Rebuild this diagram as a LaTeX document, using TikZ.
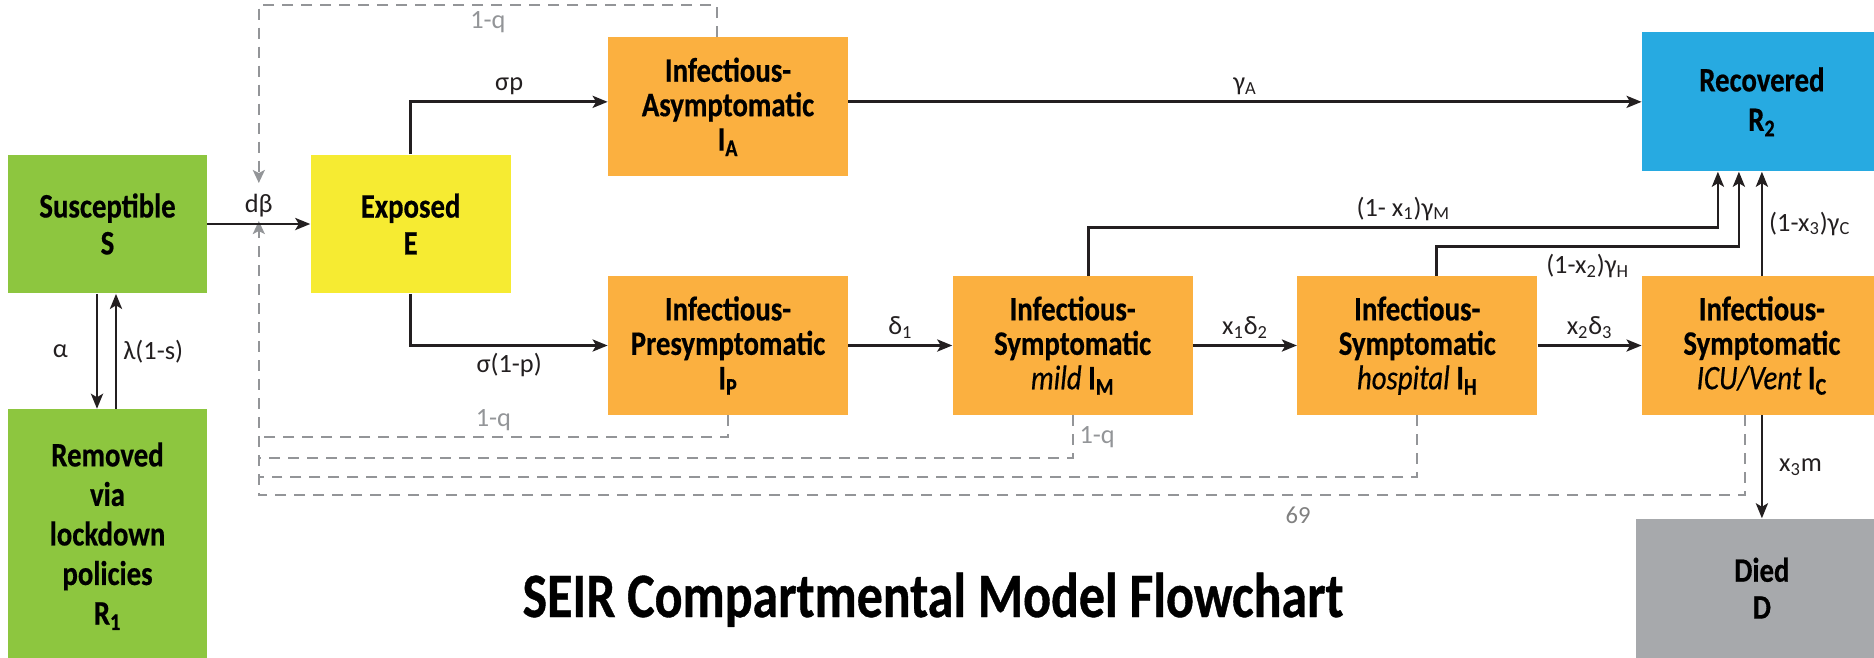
\documentclass[tikz,border=0pt]{standalone}
\usepackage{fontspec}
\setmainfont{Carlito}
\newfontfamily\boxfont[FakeStretch=0.84, FakeBold=0.5]{Carlito}
\newfontfamily\titlefont[FakeStretch=0.82, FakeBold=0.6]{Carlito}
\usepackage{xcolor}
\usepackage{tikz}
\usetikzlibrary{arrows.meta, positioning}

\definecolor{boxgreen}{HTML}{8DC63F}
\definecolor{boxyellow}{HTML}{F6EB32}
\definecolor{boxorange}{HTML}{FBB040}
\definecolor{boxblue}{HTML}{27AAE1}
\definecolor{boxgray}{HTML}{A7A9AC}
\definecolor{dashgray}{HTML}{939598}
\definecolor{arrowblack}{HTML}{231F20}

\begin{document}
\begin{tikzpicture}[
        x=0.02cm, y=-0.02cm,
        base_box/.style={inner sep=0pt, align=center, minimum height=2.78cm, font=\boxfont\bfseries\fontsize{19.5}{21}\selectfont},
        green_box/.style={base_box, fill=boxgreen, minimum width=3.98cm},
        yellow_box/.style={base_box, fill=boxyellow, minimum width=4cm},
        orange_box/.style={base_box, fill=boxorange, minimum width=4.8cm, font=\boxfont\bfseries\fontsize{19.5}{19.6}\selectfont},
        blue_box/.style={base_box, fill=boxblue, minimum width=4.8cm, font=\boxfont\bfseries\fontsize{19.5}{22.5}\selectfont},
        gray_box/.style={base_box, fill=boxgray, minimum width=5.04cm},
        flow/.style={draw=arrowblack, line width=1.6pt, -{Stealth[length=0.3cm, width=0.24cm, inset=0.07cm]}},
        feedback/.style={draw=dashgray, line width=1.2pt, dash pattern=on 0.22cm off 0.16cm},
        feedback_tip/.style={feedback, -{Stealth[length=0.26cm, width=0.24cm, inset=0.06cm]}},
        rate/.style={font=\fontsize{15}{17}\selectfont, text=arrowblack},
        rate_gray/.style={font=\fontsize{15}{17}\selectfont, text=dashgray}
    ]
    \useasboundingbox (0,0) rectangle (1874,657);
    \clip (0,0) rectangle (1874,657);

    % compartimentos
    \node[green_box] (S) at (107.5,224) {Susceptible\\S};
    \node[yellow_box, right=2.06cm of S] (E) {Exposed\\E};
    \node[orange_box] (IP) at (728,345.5) {Infectious-\\Presymptomatic\\I\textsubscript{P}};
    \node[orange_box, above=1.98cm of IP] (IA) {Infectious-\\Asymptomatic\\I\textsubscript{A}};
    \node[orange_box, right=2.08cm of IP] (IM) {Infectious-\\Symptomatic\\{\mdseries\itshape mild} I\textsubscript{M}};
    \node[orange_box, right=2.08cm of IM] (IH) {Infectious-\\Symptomatic\\{\mdseries\itshape hospital} I\textsubscript{H}};
    \node[orange_box, right=2.08cm of IH] (IC) {Infectious-\\Symptomatic\\{\mdseries\itshape ICU/Vent} I\textsubscript{C}};
    \node[blue_box, above=2.08cm of IC] (R2) {Recovered\\R\textsubscript{2}};
    \node[gray_box, below=2.06cm of IC] (D) {Died\\D};
    \node[green_box, minimum height=5.08cm, below=2.3cm of S, font=\boxfont\bfseries\fontsize{19.5}{22.5}\selectfont] (R1) {Removed\\via\\lockdown\\policies\\R\textsubscript{1}};

    \path (S) -- (E) coordinate[midway] (beta);

    % quarentena (1-q)
    \draw[feedback_tip] ([xshift=-0.22cm]IA.north) -- ++(0,-32) -| ([yshift=0.82cm]beta) node[pos=0.25, below, rate_gray] {1-q};
    \draw[feedback] (IP.south) -- ++(0,22) coordinate (q1) -- (q1 -| beta) node[midway, above, rate_gray] {1-q};
    \draw[feedback] (IM.south) -- ++(0,43) coordinate (q2) node[midway, right, rate_gray] {1-q} -- (q2 -| beta);
    \draw[feedback] (IH.south) -- ++(0,62) coordinate (q3) -- (q3 -| beta);
    \draw[feedback_tip] ([xshift=-0.34cm]IC.south) -- ++(0,80) coordinate (q4) -- (q4 -| beta) -- ([yshift=0.06cm]beta);

    % fluxos
    \draw[flow] (S) -- (E) node[midway, above, rate] {dβ};
    \draw[flow] (E.north) |- (IA.west |- R2.west) node[pos=0.75, above, rate] {σp};
    \draw[flow] (E.south) |- (IP.west) node[pos=0.75, below, rate] {σ(1-p)};
    \draw[flow] (IA.east |- R2.west) -- (R2.west) node[midway, above, rate] {γ\textsubscript{A}};
    \draw[flow] (IP) -- (IM) node[midway, above, rate] {δ\textsubscript{1}};
    \draw[flow] (IM) -- (IH) node[midway, above, rate] {x\textsubscript{1}δ\textsubscript{2}};
    \draw[flow] (IH) -- (IC) node[midway, above, rate] {x\textsubscript{2}δ\textsubscript{3}};
    \draw[flow] ([xshift=0.32cm]IM.north) -- ++(0,-48) -| ([xshift=-0.88cm]R2.south) node[pos=0.25, above, rate] {(1- x\textsubscript{1})γ\textsubscript{M}};
    \draw[flow] ([xshift=0.38cm]IH.north) -- ++(0,-29) -| ([xshift=-0.46cm]R2.south) node[pos=0.25, below, rate] {(1-x\textsubscript{2})γ\textsubscript{H}};
    \draw[flow] (IC.north) -- (R2.south) node[midway, right, rate] {(1-x\textsubscript{3})γ\textsubscript{C}};
    \draw[flow] (IC.south) -- (D.north) node[midway, right=0.2cm, rate] {x\textsubscript{3}m};
    \draw[flow] ([xshift=-0.21cm]S.south) -- ([xshift=-0.21cm]R1.north) node[midway, left=0.44cm, rate] {α};
    \draw[flow] ([xshift=0.17cm]R1.north) -- ([xshift=0.17cm]S.south) node[midway, right, rate] {λ(1-s)};

    \node[anchor=base, font=\titlefont\bfseries\fontsize{36}{40}\selectfont] (title) at (933,617) {SEIR Compartmental Model Flowchart};
    \node[anchor=base, font=\fontsize{14}{16}\selectfont, text=gray] (page) at (1298,523) {69};
\end{tikzpicture}
\end{document}
